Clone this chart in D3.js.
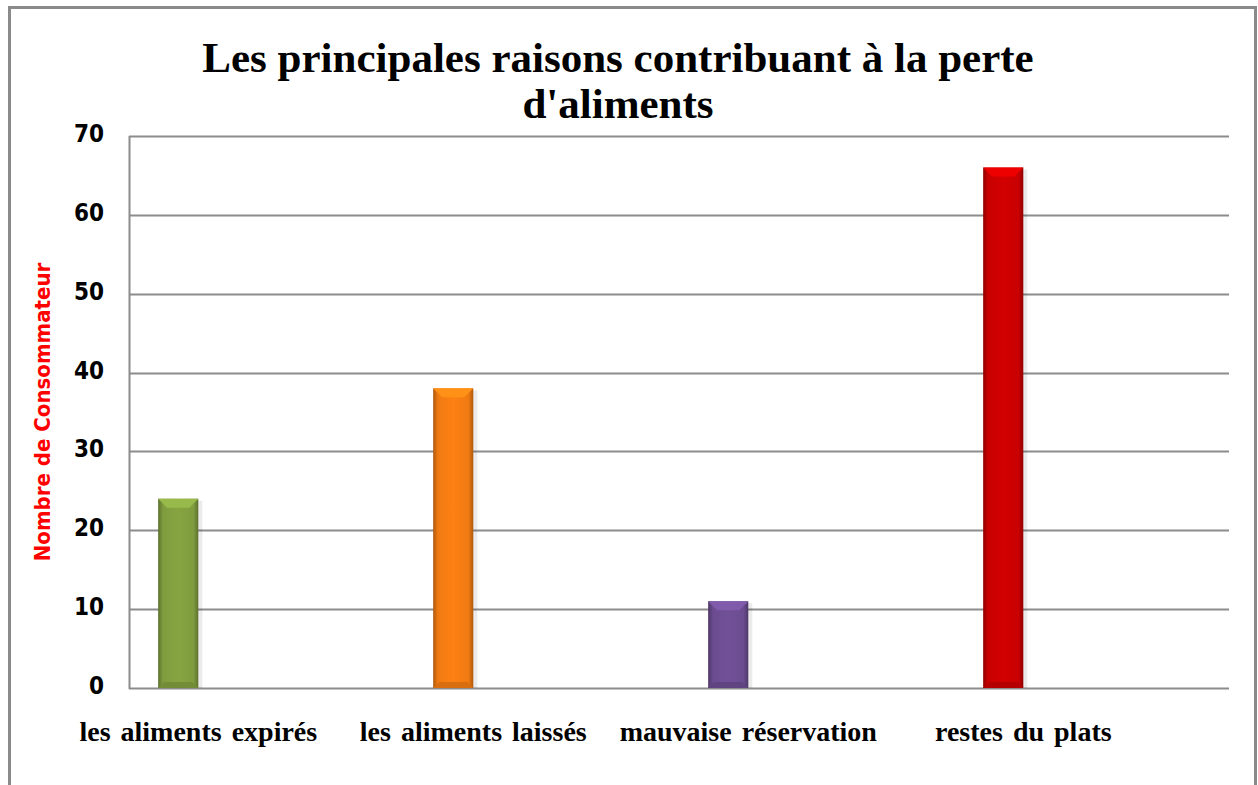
<!DOCTYPE html>
<html>
<head>
<meta charset="utf-8">
<script src="https://cdn.jsdelivr.net/npm/d3@7"></script>
<style>
  body { margin: 0; background: #fff; }
  svg { display: block; }
</style>
</head>
<body>
<svg id="canvas" width="1258" height="785"></svg>
<script>
// données du graphique
let categories = ['les aliments expirés', 'les aliments laissés', 'mauvaise réservation', 'restes du plats']
let values = [24, 38, 11, 66]
let barColors = ['#7f9c3e', '#f07a12', '#6b4c90', '#c80000']
let yTicks = [0, 10, 20, 30, 40, 50, 60, 70]
let titleLines = ['Les principales raisons contribuant à la perte', "d'aliments"]
let yTitle = 'Nombre de Consommateur'

let canvas = d3.select('#canvas')

let plotLeft = 129, plotRight = 1229, plotTop = 136, plotBottom = 688

let x = d3.scaleBand().domain(categories).range([plotLeft, plotRight]).paddingInner(0).paddingOuter(0)
let y = d3.scaleLinear().domain([0, 70]).range([plotBottom, plotTop])

let barOffset = x.bandwidth() * 0.106
let barWidth = x.bandwidth() * 0.146

// cadre extérieur
canvas.append('rect')
    .attr('x', 9.5).attr('y', 7.5)
    .attr('width', 1246).attr('height', 800)
    .attr('fill', 'none')
    .attr('stroke', '#8a8a8a')
    .attr('stroke-width', 3)

// titre
canvas.append('g').selectAll('text')
    .data(titleLines)
    .enter()
    .append('text')
    .attr('x', 618)
    .attr('y', (d, i) => 72 + i * 46)
    .attr('text-anchor', 'middle')
    .style('font-family', '"Liberation Serif", "Times New Roman", serif')
    .style('font-weight', 'bold')
    .style('font-size', '43px')
    .text(d => d)

// grille
canvas.append('g').selectAll('line')
    .data(yTicks)
    .enter()
    .append('line')
    .attr('x1', plotLeft).attr('x2', plotRight)
    .attr('y1', d => Math.round(y(d)) + 0.5)
    .attr('y2', d => Math.round(y(d)) + 0.5)
    .attr('stroke', '#8c8c8c')
    .attr('stroke-width', 2)

canvas.append('line')
    .attr('x1', plotLeft + 0.5).attr('x2', plotLeft + 0.5)
    .attr('y1', plotTop).attr('y2', plotBottom + 1)
    .attr('stroke', '#8c8c8c')
    .attr('stroke-width', 2)

// étiquettes de l'axe y
canvas.append('g').selectAll('text')
    .data(yTicks)
    .enter()
    .append('text')
    .attr('x', 104)
    .attr('y', d => y(d) + 6)
    .attr('text-anchor', 'end')
    .style('font-family', '"Liberation Sans Narrow", "DejaVu Sans Condensed", sans-serif')
    .style('font-weight', 'bold')
    .style('font-size', '24px')
    .text(d => d)

canvas.append('text')
    .attr('transform', 'translate(50,' + ((plotTop + plotBottom) / 2) + ') rotate(-90)')
    .attr('text-anchor', 'middle')
    .attr('fill', '#ff0000')
    .style('font-family', '"Liberation Sans Narrow", "DejaVu Sans Condensed", sans-serif')
    .style('font-weight', 'bold')
    .style('font-size', '22px')
    .text(yTitle)

// dégradés des barres
let defs = canvas.append('defs')
barColors.forEach((c, i) => {
    let g = defs.append('linearGradient').attr('id', 'grad' + i)
        .attr('x1', '0%').attr('x2', '100%').attr('y1', '0%').attr('y2', '0%')
    let base = d3.color(c)
    g.append('stop').attr('offset', '0%').attr('stop-color', base.darker(0.9))
    g.append('stop').attr('offset', '12%').attr('stop-color', base)
    g.append('stop').attr('offset', '50%').attr('stop-color', base.brighter(0.15))
    g.append('stop').attr('offset', '88%').attr('stop-color', base)
    g.append('stop').attr('offset', '100%').attr('stop-color', base.darker(0.9))
})

let bars = canvas.append('g').selectAll('g')
    .data(categories)
    .enter()
    .append('g')

// ombre légère
bars.append('rect')
    .attr('x', d => x(d) + barOffset + 2)
    .attr('y', (d, i) => y(values[i]) + 2)
    .attr('width', barWidth + 2)
    .attr('height', (d, i) => plotBottom - y(values[i]) - 2)
    .attr('fill', '#000')
    .attr('opacity', 0.08)

bars.append('rect')
    .attr('x', d => x(d) + barOffset)
    .attr('y', (d, i) => y(values[i]))
    .attr('width', barWidth)
    .attr('height', (d, i) => plotBottom - y(values[i]))
    .attr('fill', (d, i) => 'url(#grad' + i + ')')

// biseau du haut
bars.append('path')
    .attr('d', (d, i) => {
        let x0 = x(d) + barOffset, x1 = x0 + barWidth, y0 = y(values[i]), b = 9
        return 'M' + x0 + ',' + y0 + 'L' + x1 + ',' + y0 + 'L' + (x1 - b) + ',' + (y0 + b) + 'L' + (x0 + b) + ',' + (y0 + b) + 'Z'
    })
    .attr('fill', (d, i) => d3.color(barColors[i]).brighter(0.5))

// biseau du bas
bars.append('path')
    .attr('d', (d, i) => {
        let x0 = x(d) + barOffset, x1 = x0 + barWidth, y0 = plotBottom, b = 6
        return 'M' + x0 + ',' + y0 + 'L' + x1 + ',' + y0 + 'L' + (x1 - b) + ',' + (y0 - b) + 'L' + (x0 + b) + ',' + (y0 - b) + 'Z'
    })
    .attr('fill', (d, i) => d3.color(barColors[i]).darker(0.3))

// étiquettes des catégories
canvas.append('g').selectAll('text')
    .data(categories)
    .enter()
    .append('text')
    .attr('x', d => x(d) + barOffset + barWidth)
    .attr('y', 741)
    .attr('text-anchor', 'middle')
    .style('font-family', '"Liberation Serif", "Times New Roman", serif')
    .style('font-weight', 'bold')
    .style('font-size', '28px')
    .style('word-spacing', '3px')
    .text(d => d)
</script>
</body>
</html>
